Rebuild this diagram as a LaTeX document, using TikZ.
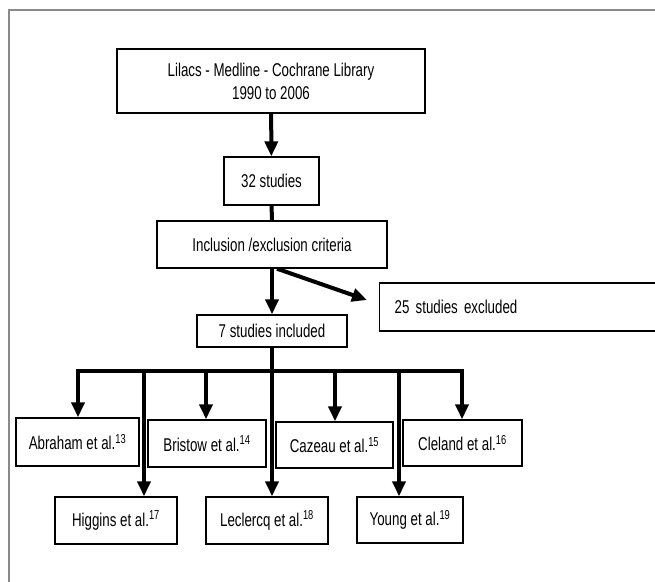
\documentclass[tikz,border=0pt]{standalone}
\usepackage{fontspec}
\setmainfont{Liberation Sans}[FakeStretch=0.72]
\usetikzlibrary{arrows.meta}
\definecolor{framegray}{HTML}{8A8A8A}

\begin{document}
\begin{tikzpicture}[x=1pt, y=-1pt,
		box/.style={draw=black, line width=1.4pt, inner sep=0pt, align=center, font=\fontsize{18.5}{23}\selectfont},
		arr/.style={black, line width=4pt, -{Triangle[width=13pt,length=15pt]}},
		bar/.style={black, line width=4pt}]
	\useasboundingbox (0,0) rectangle (655,581);
	\draw [framegray, line width=2pt] (9,600) -- (9,10) -- (670,10);

	% search and screening
	\node[box, minimum width=308, minimum height=64] (src) at (271,81) {Lilacs - Medline - Cochrane Library\\1990 to 2006};
	\node[box, minimum width=95, minimum height=48] (n32) at (271.5,181) {32 studies};
	\node[box, minimum width=230, minimum height=47] (incl) at (272,244.5) {Inclusion /exclusion criteria};
	\node[box, minimum width=150, minimum height=32] (n7) at (272,331) {7 studies included};
	\node[box, minimum width=290, minimum height=48, anchor=west, align=left, text width=260] (excl) at (379,307) {25 studies excluded};

	\draw [arr] (src) -- (n32);
	\draw [bar] (n32) -- (incl);
	\draw [arr] (incl) -- (n7);
	\draw [arr] ([xshift=5pt]incl.south) -- ([xshift=-12pt, yshift=7pt]excl.west);

	% included studies
	\node[box, minimum width=123, minimum height=48] (abr) at (77.5,442) {Abraham et al.\textsuperscript{13}};
	\node[box, minimum width=118, minimum height=47] (bri) at (207,443.5) {Bristow et al.\textsuperscript{14}};
	\node[box, minimum width=117, minimum height=46] (caz) at (334.5,445) {Cazeau et al.\textsuperscript{15}};
	\node[box, minimum width=119, minimum height=46] (cle) at (462.5,443) {Cleland et al.\textsuperscript{16}};
	\node[box, minimum width=122, minimum height=47] (hig) at (116,520.5) {Higgins et al.\textsuperscript{17}};
	\node[box, minimum width=122, minimum height=47] (lec) at (267,520.5) {Leclercq et al.\textsuperscript{18}};
	\node[box, minimum width=106, minimum height=46] (you) at (410,520) {Young et al.\textsuperscript{19}};

	\coordinate (bl) at (76,371);
	\coordinate (br) at (464,371);
	\draw [bar] (bl) -- (br);
	\draw [bar] (n7.south) -- (n7.south |- bl);

	\coordinate (t1) at (78,371);
	\coordinate (t2) at (144,371);
	\coordinate (t3) at (206,371);
	\coordinate (t4) at (272,371);
	\coordinate (t5) at (335,371);
	\coordinate (t6) at (399,371);
	\coordinate (t7) at (462,371);
	\foreach \t/\n in {t1/abr, t2/hig, t3/bri, t4/lec, t5/caz, t6/you, t7/cle}
		\draw [arr] (\t) -- (\t |- \n.north);
\end{tikzpicture}
\end{document}
